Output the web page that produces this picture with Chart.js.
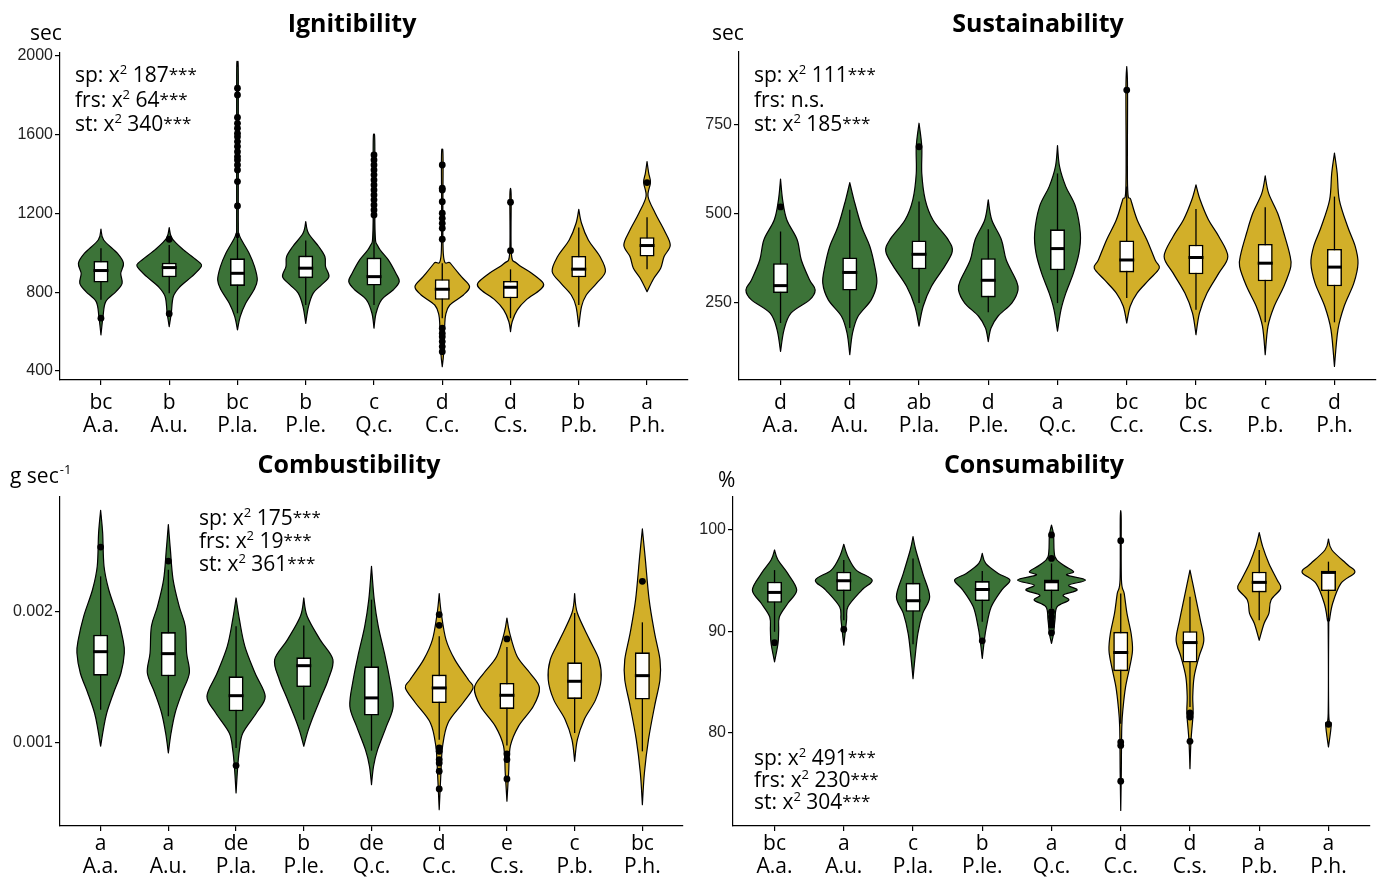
<!DOCTYPE html>
<html>
<head>
<meta charset="utf-8">
<script src="https://cdn.jsdelivr.net/npm/chart.js@4/dist/chart.umd.min.js"></script>
<style>
  html, body { margin: 0; padding: 0; background: #fff; }
  #wrap { position: relative; width: 1379px; height: 878px; overflow: hidden; background: #fff; }
  canvas { position: absolute; }
</style>
</head>
<body>
<div id="wrap">
  <canvas id="c1" width="690" height="440" style="left:0;top:0"></canvas>
  <canvas id="c2" width="689" height="440" style="left:690px;top:0"></canvas>
  <canvas id="c3" width="690" height="438" style="left:0;top:440px"></canvas>
  <canvas id="c4" width="689" height="438" style="left:690px;top:440px"></canvas>
</div>
<script>
// ---------------- data ----------------
const species = ['A.a.', 'A.u.', 'P.la.', 'P.le.', 'Q.c.', 'C.c.', 'C.s.', 'P.b.', 'P.h.'];
const speciesGroup = [0, 0, 0, 0, 0, 1, 1, 1, 1];

// Ignitibility (sec)
const ignLetters = ['bc', 'b', 'bc', 'b', 'c', 'd', 'd', 'b', 'a'];
const ignQ1 = [849, 876, 832, 871, 834, 761, 769, 876, 981];
const ignMedian = [910, 925, 896, 922, 879, 815, 825, 917, 1037];
const ignQ3 = [959, 950, 972, 986, 976, 866, 857, 984, 1079];
const ignLow = [761, 795, 693, 735, 735, 668, 668, 735, 917];
const ignHigh = [1023, 1040, 1100, 1062, 1175, 947, 916, 1128, 1181];
const ignOutliers = [
  [668],
  [1069, 691],
  [1836, 1802, 1688, 1658, 1633, 1607, 1590, 1565, 1540, 1514, 1489, 1472, 1446, 1421, 1362, 1238],
  [],
  [1497, 1472, 1446, 1421, 1396, 1370, 1345, 1319, 1294, 1269, 1243, 1218, 1192],
  [1446, 1328, 1319, 1260, 1201, 1175, 1150, 1125, 1069, 617, 591, 574, 549, 524, 498],
  [1257, 1011],
  [],
  [1357]
];
// kernel density outline: [value, half-width in category units]
const ignDensity = [
  [[1120, 0], [1065, 0.04], [998, 0.24], [947, 0.33], [896, 0.29], [845, 0.31], [803, 0.22], [752, 0.07], [676, 0.03], [583, 0]],
  [[1128, 0], [1074, 0.04], [1015, 0.21], [955, 0.43], [930, 0.47], [879, 0.33], [829, 0.16], [778, 0.06], [693, 0.03], [625, 0]],
  [[1949, 0], [1900, 0.012], [1150, 0.012], [1099, 0.02], [1065, 0.06], [998, 0.17], [930, 0.25], [862, 0.29], [811, 0.24], [744, 0.12], [676, 0.04], [608, 0]],
  [[1159, 0], [1099, 0.04], [1032, 0.19], [981, 0.28], [930, 0.29], [879, 0.34], [837, 0.23], [795, 0.11], [727, 0.04], [642, 0]],
  [[1602, 0], [1550, 0.012], [1116, 0.015], [1032, 0.06], [964, 0.21], [896, 0.32], [854, 0.37], [811, 0.28], [761, 0.11], [693, 0.03], [617, 0]],
  [[1523, 0], [1470, 0.012], [998, 0.015], [947, 0.12], [879, 0.28], [829, 0.40], [786, 0.31], [735, 0.11], [685, 0.05], [625, 0.035], [490, 0.02], [422, 0]],
  [[1328, 0], [1280, 0.01], [998, 0.012], [947, 0.09], [896, 0.31], [845, 0.48], [811, 0.43], [761, 0.23], [710, 0.10], [651, 0.025], [600, 0]],
  [[1221, 0], [1150, 0.04], [1065, 0.14], [981, 0.31], [905, 0.39], [845, 0.26], [786, 0.11], [727, 0.04], [625, 0]],
  [[1463, 0], [1404, 0.025], [1357, 0.05], [1286, 0.015], [1201, 0.12], [1116, 0.25], [1040, 0.34], [981, 0.25], [922, 0.20], [871, 0.10], [803, 0]]
];
const ignYTicks = [400, 800, 1200, 1600, 2000];
const ignStats = [['sp', 187, '***'], ['frs', 64, '***'], ['st', 340, '***']];

// Sustainability (sec)
const susLetters = ['d', 'd', 'ab', 'd', 'a', 'bc', 'bc', 'c', 'd'];
const susQ1 = [278, 285, 345, 266, 342, 336, 331, 311, 297];
const susMedian = [299, 336, 387, 314, 403, 371, 378, 362, 351];
const susQ3 = [362, 378, 426, 376, 457, 426, 414, 416, 402];
const susLow = [194, 180, 250, 224, 250, 264, 231, 196, 196];
const susHigh = [451, 512, 535, 457, 614, 577, 514, 519, 549];
const susOutliers = [[520], [], [689], [], [], [848], [], [], []];
const susDensity = [
  [[598, 0], [540, 0.03], [484, 0.09], [428, 0.24], [371, 0.30], [315, 0.42], [287, 0.50], [259, 0.42], [222, 0.15], [175, 0.05], [114, 0]],
  [[588, 0], [540, 0.06], [465, 0.17], [409, 0.29], [353, 0.36], [306, 0.39], [259, 0.31], [213, 0.12], [166, 0.04], [105, 0]],
  [[755, 0], [689, 0.04], [614, 0.04], [540, 0.09], [484, 0.20], [428, 0.42], [395, 0.48], [353, 0.37], [297, 0.18], [241, 0.06], [185, 0]],
  [[540, 0], [484, 0.05], [428, 0.19], [371, 0.26], [315, 0.40], [287, 0.43], [250, 0.34], [213, 0.14], [180, 0.04], [142, 0]],
  [[692, 0], [633, 0.03], [577, 0.12], [521, 0.26], [446, 0.33], [390, 0.31], [334, 0.23], [278, 0.12], [231, 0.05], [171, 0]],
  [[914, 0], [848, 0.012], [577, 0.012], [540, 0.06], [484, 0.15], [428, 0.29], [371, 0.41], [348, 0.47], [315, 0.32], [278, 0.15], [241, 0.05], [194, 0]],
  [[582, 0], [540, 0.06], [484, 0.18], [437, 0.33], [381, 0.46], [334, 0.33], [278, 0.16], [222, 0.05], [161, 0]],
  [[607, 0], [558, 0.05], [502, 0.18], [446, 0.27], [390, 0.35], [353, 0.37], [297, 0.27], [241, 0.13], [185, 0.04], [105, 0]],
  [[671, 0], [614, 0.04], [540, 0.07], [465, 0.19], [409, 0.30], [362, 0.34], [306, 0.28], [241, 0.14], [175, 0.05], [72, 0]]
];
const susYTicks = [250, 500, 750];
const susStats = [['sp', 111, '***'], ['frs', null, 'n.s.'], ['st', 185, '***']];

// Combustibility (g sec-1)
const comLetters = ['a', 'a', 'de', 'b', 'de', 'd', 'e', 'c', 'bc'];
const comQ1 = [0.001514, 0.001509, 0.001242, 0.001427, 0.001209, 0.001305, 0.001260, 0.001336, 0.001331];
const comMedian = [0.001697, 0.001682, 0.001361, 0.001590, 0.001344, 0.001420, 0.001364, 0.001471, 0.001514];
const comQ3 = [0.001827, 0.001847, 0.001509, 0.001654, 0.001585, 0.001522, 0.001458, 0.001616, 0.001692];
const comLow = [0.001254, 0.001204, 0.000962, 0.001178, 0.000941, 0.001025, 0.000980, 0.001076, 0.000936];
const comHigh = [0.002272, 0.002323, 0.001891, 0.001896, 0.002094, 0.001814, 0.001733, 0.001992, 0.001921];
const comOutliers = [
  [0.002496], [0.002389], [0.000827], [], [],
  [0.001980, 0.001898, 0.000962, 0.000936, 0.000873, 0.000847, 0.000784, 0.000649],
  [0.001794, 0.000916, 0.000873, 0.000725],
  [], [0.002234]
];
const comDensity = [
  [[0.002776, 0], [0.002603, 0.03], [0.002349, 0.05], [0.002170, 0.12], [0.001967, 0.25], [0.001789, 0.33], [0.001687, 0.35], [0.001534, 0.30], [0.001382, 0.19], [0.001229, 0.09], [0.001102, 0.04], [0.000975, 0]],
  [[0.002667, 0], [0.002476, 0.03], [0.002247, 0.07], [0.002043, 0.16], [0.001891, 0.25], [0.001687, 0.27], [0.001534, 0.31], [0.001382, 0.20], [0.001229, 0.10], [0.001076, 0.04], [0.000924, 0]],
  [[0.002107, 0], [0.001941, 0.05], [0.001738, 0.13], [0.001534, 0.28], [0.001356, 0.43], [0.001229, 0.30], [0.001076, 0.10], [0.000949, 0.05], [0.000822, 0.025], [0.000618, 0]],
  [[0.002107, 0], [0.001967, 0.05], [0.001789, 0.24], [0.001636, 0.43], [0.001483, 0.36], [0.001356, 0.26], [0.001204, 0.14], [0.001089, 0.06], [0.000975, 0]],
  [[0.002349, 0], [0.002094, 0.04], [0.001891, 0.10], [0.001687, 0.19], [0.001483, 0.27], [0.001280, 0.32], [0.001127, 0.22], [0.000949, 0.09], [0.000822, 0.03], [0.000682, 0]],
  [[0.002140, 0], [0.001992, 0.03], [0.001789, 0.10], [0.001636, 0.23], [0.001483, 0.43], [0.001420, 0.50], [0.001305, 0.35], [0.001153, 0.13], [0.000975, 0.05], [0.000771, 0.025], [0.000491, 0]],
  [[0.001954, 0], [0.001840, 0.04], [0.001662, 0.15], [0.001534, 0.34], [0.001420, 0.48], [0.001280, 0.39], [0.001127, 0.17], [0.000975, 0.05], [0.000771, 0.025], [0.000555, 0]],
  [[0.002140, 0], [0.001992, 0.04], [0.001789, 0.22], [0.001636, 0.36], [0.001483, 0.39], [0.001331, 0.31], [0.001178, 0.14], [0.001025, 0.04], [0.000860, 0]],
  [[0.002634, 0], [0.002425, 0.04], [0.002094, 0.10], [0.001840, 0.18], [0.001636, 0.26], [0.001483, 0.26], [0.001280, 0.18], [0.001025, 0.09], [0.000771, 0.03], [0.000529, 0]]
];
const comYTicks = [0.001, 0.002];
const comStats = [['sp', 175, '***'], ['frs', 19, '***'], ['st', 361, '***']];

// Consumability (%)
const conLetters = ['bc', 'a', 'c', 'b', 'a', 'd', 'd', 'a', 'a'];
const conQ1 = [92.83, 93.98, 91.94, 93.00, 93.98, 86.09, 86.94, 93.85, 93.98];
const conMedian = [93.85, 95.00, 93.03, 94.14, 94.90, 87.93, 88.91, 94.84, 95.82];
const conQ3 = [94.90, 95.89, 94.80, 94.97, 95.13, 89.97, 90.03, 95.89, 95.95];
const conLow = [89.97, 91.12, 88.75, 90.95, 92.27, 80.92, 82.57, 91.12, 91.12];
const conHigh = [96.05, 97.04, 97.20, 95.95, 96.71, 93.75, 93.42, 98.03, 96.88];
const conOutliers = [
  [88.9], [90.2], [], [89.08],
  [99.51, 97.2, 91.94, 91.45, 90.95, 90.62, 89.87],
  [98.95, 79.11, 78.78, 75.26],
  [81.97, 81.58, 79.18],
  [], [80.86]
];
const conDensity = [
  [[98.03, 0], [97.04, 0.05], [95.72, 0.19], [94.08, 0.32], [92.76, 0.19], [91.45, 0.07], [90.13, 0.06], [88.82, 0.05], [87.01, 0]],
  [[98.59, 0], [97.37, 0.06], [96.05, 0.18], [95.07, 0.41], [94.08, 0.26], [92.43, 0.06], [91.12, 0.04], [88.65, 0]],
  [[99.34, 0], [98.03, 0.04], [95.72, 0.14], [93.42, 0.24], [91.78, 0.14], [89.80, 0.07], [87.50, 0.03], [85.36, 0]],
  [[97.70, 0], [96.71, 0.05], [95.72, 0.23], [95.07, 0.40], [94.08, 0.28], [92.43, 0.13], [90.46, 0.06], [89.14, 0.03], [87.34, 0]],
  [[100.49, 0], [99.51, 0.03], [97.37, 0.05], [96.55, 0.17], [95.89, 0.32], [95.56, 0.22], [95.07, 0.49], [94.57, 0.25], [94.08, 0.37], [93.59, 0.17], [93.09, 0.25], [92.43, 0.08], [91.12, 0.05], [89.80, 0.03], [88.82, 0]],
  [[101.91, 0], [101.0, 0.007], [95.07, 0.01], [93.75, 0.05], [91.78, 0.09], [89.80, 0.15], [88.16, 0.17], [86.51, 0.13], [84.54, 0.07], [82.57, 0.035], [80.59, 0.015], [75.99, 0.008], [72.37, 0]],
  [[96.05, 0], [94.74, 0.04], [93.09, 0.09], [91.12, 0.15], [89.14, 0.20], [87.50, 0.13], [85.53, 0.06], [83.55, 0.04], [81.91, 0.045], [79.28, 0.015], [76.48, 0]],
  [[99.74, 0], [98.36, 0.05], [96.71, 0.14], [95.07, 0.26], [94.24, 0.31], [93.09, 0.17], [91.78, 0.14], [90.79, 0.07], [89.14, 0]],
  [[99.11, 0], [98.03, 0.05], [96.55, 0.28], [95.82, 0.38], [94.74, 0.18], [92.76, 0.06], [91.12, 0.015], [90.46, 0.004], [81.91, 0.004], [80.86, 0.04], [78.62, 0]]
];
const conYTicks = [80, 90, 100];
const conStats = [['sp', 491, '***'], ['frs', 230, '***'], ['st', 304, '***']];

// ---------------- styling ----------------
const GROUP_FILL = ['#3c7338', '#d2af29'];
const SANS = '"Open Sans", "Noto Sans", "DejaVu Sans", sans-serif';
const AXIS_SANS = '"Liberation Sans", Arial, sans-serif';

const panels = [
  {
    id: 'c1', title: 'Ignitibility', unit: 'sec', unitSup: '',
    letters: ignLetters, q1: ignQ1, median: ignMedian, q3: ignQ3, low: ignLow, high: ignHigh,
    outliers: ignOutliers, density: ignDensity, yTicks: ignYTicks, stats: ignStats,
    yMin: 354, yMax: 2015,
    frame: { top: 53, right: 2, yWidth: 60, xHeight: 60, labelPad: 6 },
    text: { titleX: 352, titleY: 32, unitX: 30, unitY: 40, statX: 75, statY: 82, statDy: 24.5 }
  },
  {
    id: 'c2', title: 'Sustainability', unit: 'sec', unitSup: '',
    letters: susLetters, q1: susQ1, median: susMedian, q3: susQ3, low: susLow, high: susHigh,
    outliers: susOutliers, density: susDensity, yTicks: susYTicks, stats: susStats,
    yMin: 34, yMax: 955,
    frame: { top: 52, right: 3, yWidth: 49, xHeight: 60, labelPad: 6 },
    text: { titleX: 348, titleY: 32, unitX: 22, unitY: 40, statX: 64, statY: 82, statDy: 24.5 }
  },
  {
    id: 'c3', title: 'Combustibility', unit: 'g sec', unitSup: '-1',
    letters: comLetters, q1: comQ1, median: comMedian, q3: comQ3, low: comLow, high: comHigh,
    outliers: comOutliers, density: comDensity, yTicks: comYTicks, stats: comStats,
    yMin: 0.000366, yMax: 0.002878,
    frame: { top: 57, right: 7, yWidth: 60, xHeight: 52, labelPad: 1.5 },
    text: { titleX: 349, titleY: 33, unitX: 10, unitY: 43, statX: 199, statY: 85, statDy: 23 }
  },
  {
    id: 'c4', title: 'Consumability', unit: '%', unitSup: '',
    letters: conLetters, q1: conQ1, median: conMedian, q3: conQ3, low: conLow, high: conHigh,
    outliers: conOutliers, density: conDensity, yTicks: conYTicks, stats: conStats,
    yMin: 70.84, yMax: 103.25,
    frame: { top: 57, right: 9, yWidth: 43, xHeight: 52, labelPad: 1.5 },
    text: { titleX: 344, titleY: 33, unitX: 28, unitY: 47, statX: 64, statY: 325, statDy: 22 }
  }
];

// ---------------- drawing helpers ----------------
// Catmull-Rom spline through the outline points, kept on one side of the centre line
function traceSmooth(ctx, pts, cx, side) {
  const clampX = v => side > 0 ? Math.max(cx, v) : Math.min(cx, v);
  for (let i = 0; i < pts.length - 1; i++) {
    const p0 = pts[i - 1] || pts[i], p1 = pts[i], p2 = pts[i + 1], p3 = pts[i + 2] || p2;
    ctx.bezierCurveTo(
      clampX(p1.x + (p2.x - p0.x) / 6), p1.y + (p2.y - p0.y) / 6,
      clampX(p2.x - (p3.x - p1.x) / 6), p2.y - (p3.y - p1.y) / 6,
      p2.x, p2.y);
  }
}

function violinPlugin(panel) {
  return {
    id: 'violins',
    beforeDatasetsDraw(chart) {
      const { ctx, scales: { x, y } } = chart;
      panel.density.forEach((profile, i) => {
        const cx = x.getPixelForValue(i + 1);
        const unit = x.getPixelForValue(i + 2) - cx;
        const right = profile.map(([v, w]) => ({ x: cx + w * unit, y: y.getPixelForValue(v) }));
        const left = right.slice().reverse().map(p => ({ x: 2 * cx - p.x, y: p.y }));
        ctx.save();
        ctx.beginPath();
        ctx.moveTo(right[0].x, right[0].y);
        traceSmooth(ctx, right, cx, 1);
        traceSmooth(ctx, left, cx, -1);
        ctx.closePath();
        ctx.fillStyle = GROUP_FILL[speciesGroup[i]];
        ctx.fill();
        ctx.lineWidth = 1.2;
        ctx.lineJoin = 'round';
        ctx.strokeStyle = '#000';
        ctx.stroke();
        ctx.restore();
      });
    }
  };
}

function drawStatLine(ctx, x, y, [key, chi, tail]) {
  let cx = x;
  const seg = (t, size, rise) => {
    ctx.font = size + 'px ' + SANS;
    ctx.fillText(t, cx, y - rise);
    cx += ctx.measureText(t).width;
  };
  seg(key + ': ', 21, 0);
  if (chi === null) { seg(tail, 21, 0); return; }
  seg('x', 21, 0);
  seg('2', 13, 8);
  seg(' ' + chi, 21, 0);
  seg(tail, 17, 2);
}

function textPlugin(panel) {
  return {
    id: 'panelText',
    afterDraw(chart) {
      const { ctx } = chart;
      const t = panel.text;
      ctx.save();
      ctx.fillStyle = '#000';
      ctx.textBaseline = 'alphabetic';
      // title
      ctx.font = 'bold 25px ' + SANS;
      ctx.textAlign = 'center';
      ctx.fillText(panel.title, t.titleX, t.titleY);
      // unit
      ctx.textAlign = 'left';
      ctx.font = '21px ' + SANS;
      ctx.fillText(panel.unit, t.unitX, t.unitY);
      if (panel.unitSup) {
        const w = ctx.measureText(panel.unit).width;
        ctx.font = '13px ' + SANS;
        ctx.fillText(panel.unitSup, t.unitX + w + 1, t.unitY - 9);
      }
      // test statistics
      panel.stats.forEach((s, k) => drawStatLine(ctx, t.statX, t.statY + k * t.statDy, s));
      ctx.restore();
    }
  };
}

function buildPanel(panel) {
  const idx = species.map((_, i) => i + 1);
  const f = panel.frame;
  const datasets = [
    {
      type: 'scatter', label: 'outliers', order: 1,
      data: panel.outliers.flatMap((vals, i) => vals.map(v => ({ x: i + 1, y: v }))),
      pointRadius: 3.4, pointBackgroundColor: '#000', pointBorderWidth: 0, showLine: false
    },
    {
      type: 'scatter', label: 'median', order: 2,
      data: panel.median.map((m, i) => ({ x: idx[i], y: m })),
      pointStyle: 'line', pointRadius: 7.5, pointBorderColor: '#000', pointBorderWidth: 3, showLine: false
    },
    {
      type: 'bar', label: 'box', order: 3,
      data: panel.q1.map((q, i) => ({ x: idx[i], y: [q, panel.q3[i]] })),
      backgroundColor: '#fff', borderColor: '#000', borderWidth: 1.6, borderSkipped: false,
      barThickness: 15, grouped: false, inflateAmount: 0
    },
    {
      type: 'bar', label: 'whisker', order: 4,
      data: panel.low.map((l, i) => ({ x: idx[i], y: [l, panel.high[i]] })),
      backgroundColor: '#000', borderWidth: 0, barThickness: 1.3, grouped: false, inflateAmount: 0
    }
  ];

  const axisGrid = { drawOnChartArea: false, offset: false, color: '#000', lineWidth: 1.2, tickLength: 5 };
  const axisBorder = { display: true, color: '#000', width: 1.2 };

  new Chart(document.getElementById(panel.id), {
    type: 'bar',
    data: { datasets },
    options: {
      responsive: false,
      animation: false,
      devicePixelRatio: 1,
      events: [],
      layout: { autoPadding: false, padding: { top: f.top, right: f.right, left: 0, bottom: 0 } },
      plugins: { legend: { display: false }, tooltip: { enabled: false }, title: { display: false } },
      scales: {
        x: {
          type: 'linear', min: 0.4, max: species.length + 0.6, offset: false,
          grid: axisGrid, border: axisBorder,
          afterBuildTicks: s => { s.ticks = idx.map(v => ({ value: v })); },
          afterFit: s => { s.height = f.xHeight; s.paddingLeft = 0; s.paddingRight = 0; },
          ticks: {
            autoSkip: false, maxRotation: 0, minRotation: 0, color: '#000', padding: f.labelPad,
            font: { family: SANS, size: 21, lineHeight: 1.1 },
            callback: (v, i) => [panel.letters[i], species[i]]
          }
        },
        y: {
          type: 'linear', min: panel.yMin, max: panel.yMax, beginAtZero: false,
          grid: axisGrid, border: axisBorder,
          afterBuildTicks: s => { s.ticks = panel.yTicks.map(v => ({ value: v })); },
          afterFit: s => { s.width = f.yWidth; },
          ticks: {
            color: '#222', padding: 2,
            font: { family: AXIS_SANS, size: 16 },
            callback: v => String(v)
          }
        }
      }
    },
    plugins: [violinPlugin(panel), textPlugin(panel)]
  });
}

Promise.all([
  document.fonts.load('21px "Open Sans"'),
  document.fonts.load('bold 25px "Open Sans"'),
  document.fonts.load('16px "Liberation Sans"')
]).catch(() => {}).then(() => panels.forEach(buildPanel));
</script>
</body>
</html>
